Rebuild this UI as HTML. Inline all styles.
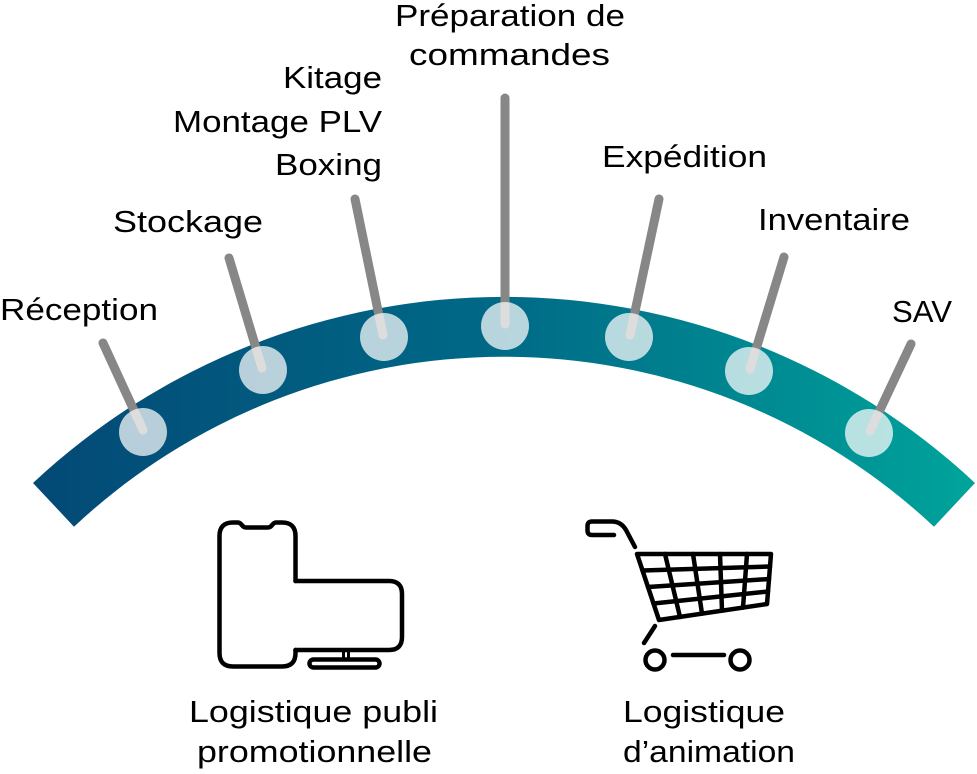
<!DOCTYPE html>
<html>
<head>
<meta charset="utf-8">
<style>
  html,body{margin:0;padding:0;background:#fff;}
  svg{display:block;}
  text{font-family:"Liberation Sans",Arial,sans-serif;font-size:31px;fill:#000;}
</style>
</head>
<body>
<svg width="977" height="774" viewBox="0 0 977 774" xmlns="http://www.w3.org/2000/svg">
  <defs>
    <linearGradient id="g" gradientUnits="userSpaceOnUse" x1="33" y1="0" x2="975" y2="0">
      <stop offset="0" stop-color="#034976"/>
      <stop offset="0.5" stop-color="#006a87"/>
      <stop offset="1" stop-color="#00a49b"/>
    </linearGradient>
  </defs>

  <!-- arc band -->
  <path d="M 33 483 A 689 689 0 0 1 975 483 L 934 526.7 A 629 629 0 0 0 74 526.7 Z" fill="url(#g)"/>

  <!-- connector lines -->
  <g stroke="#878787" stroke-width="9" stroke-linecap="round" fill="none">
    <line x1="103" y1="343" x2="143" y2="430"/>
    <line x1="229" y1="258" x2="262" y2="368"/>
    <line x1="355" y1="199" x2="383" y2="335"/>
    <line x1="505" y1="98" x2="505" y2="324"/>
    <line x1="659" y1="199" x2="630" y2="335"/>
    <line x1="784" y1="257" x2="750" y2="369"/>
    <line x1="911" y1="344" x2="870" y2="431"/>
  </g>

  <!-- dots -->
  <g fill="#ffffff" fill-opacity="0.72">
    <circle cx="143" cy="432" r="24"/>
    <circle cx="263" cy="370" r="24"/>
    <circle cx="384" cy="337" r="24"/>
    <circle cx="505" cy="326" r="24"/>
    <circle cx="629" cy="337" r="24"/>
    <circle cx="749" cy="371" r="24"/>
    <circle cx="869" cy="433" r="24"/>
  </g>

  <!-- labels -->
  <text x="0" y="320" textLength="158" lengthAdjust="spacingAndGlyphs">Réception</text>
  <text x="113" y="232" textLength="150" lengthAdjust="spacingAndGlyphs">Stockage</text>
  <text x="283" y="88" textLength="99" lengthAdjust="spacingAndGlyphs">Kitage</text>
  <text x="173" y="132" textLength="209" lengthAdjust="spacingAndGlyphs">Montage PLV</text>
  <text x="275" y="175" textLength="107" lengthAdjust="spacingAndGlyphs">Boxing</text>
  <text x="395" y="26" textLength="230" lengthAdjust="spacingAndGlyphs">Préparation de</text>
  <text x="409" y="65" textLength="201" lengthAdjust="spacingAndGlyphs">commandes</text>
  <text x="602" y="167" textLength="165" lengthAdjust="spacingAndGlyphs">Expédition</text>
  <text x="758" y="230" textLength="152" lengthAdjust="spacingAndGlyphs">Inventaire</text>
  <text x="892" y="322" textLength="60" lengthAdjust="spacingAndGlyphs">SAV</text>

  <text x="189" y="722" textLength="249" lengthAdjust="spacingAndGlyphs">Logistique publi</text>
  <text x="197" y="762" textLength="235" lengthAdjust="spacingAndGlyphs">promotionnelle</text>
  <text x="623" y="722" textLength="162" lengthAdjust="spacingAndGlyphs">Logistique</text>
  <text x="623" y="762" textLength="172" lengthAdjust="spacingAndGlyphs">d’animation</text>

  <!-- device icon -->
  <g fill="none" stroke="#000" stroke-width="4.5" stroke-linejoin="round" stroke-linecap="round">
    <path d="M 295.5 581 L 295.5 536 Q 295.5 522.5 282 522.5 L 276 522.5 C 272 522.5 272.5 527.5 268 527.5 L 246 527.5 C 241.5 527.5 242 522.5 238 522.5 L 233 522.5 Q 219.5 522.5 219.5 536 L 219.5 653 Q 219.5 666.5 233 666.5 L 282 666.5 Q 295.5 666.5 295.5 653 L 295.5 650"/>
    <path d="M 295.5 581 L 389 581 Q 402 581 402 594 L 402 637 Q 402 650 389 650 L 295.5 650"/>
    <rect x="309.5" y="659.5" width="70" height="8" rx="4"/>
  </g>
  <g stroke="#000" stroke-width="3">
    <line x1="343.5" y1="651" x2="343.5" y2="659"/>
    <line x1="348.5" y1="651" x2="348.5" y2="659"/>
  </g>

  <!-- cart icon -->
  <g fill="none" stroke="#000" stroke-width="4.5" stroke-linejoin="round" stroke-linecap="round">
    <path d="M 614 535 L 592 535 Q 587.5 535 587.5 530.5 L 587.5 526 Q 587.5 521.5 592 521.5 L 612 521.5 Q 621 521.5 626 530 L 635 547"/>
    <path d="M 637 554 L 771 554 L 767 604 L 659 620 Z"/>
    <line x1="642.5" y1="570.5" x2="770" y2="566.5"/>
    <line x1="648" y1="587" x2="769" y2="579"/>
    <line x1="653.5" y1="603.5" x2="768" y2="591.5"/>
    <line x1="665" y1="554" x2="680" y2="617"/>
    <line x1="693" y1="554" x2="702" y2="613.6"/>
    <line x1="720" y1="554" x2="722" y2="610.7"/>
    <line x1="747" y1="554" x2="743" y2="607.6"/>
    <line x1="655" y1="626" x2="644" y2="643"/>
    <circle cx="655" cy="660" r="9.5"/>
    <circle cx="740" cy="660" r="9.5"/>
    <line x1="673" y1="655" x2="724" y2="655"/>
  </g>
</svg>
</body>
</html>
